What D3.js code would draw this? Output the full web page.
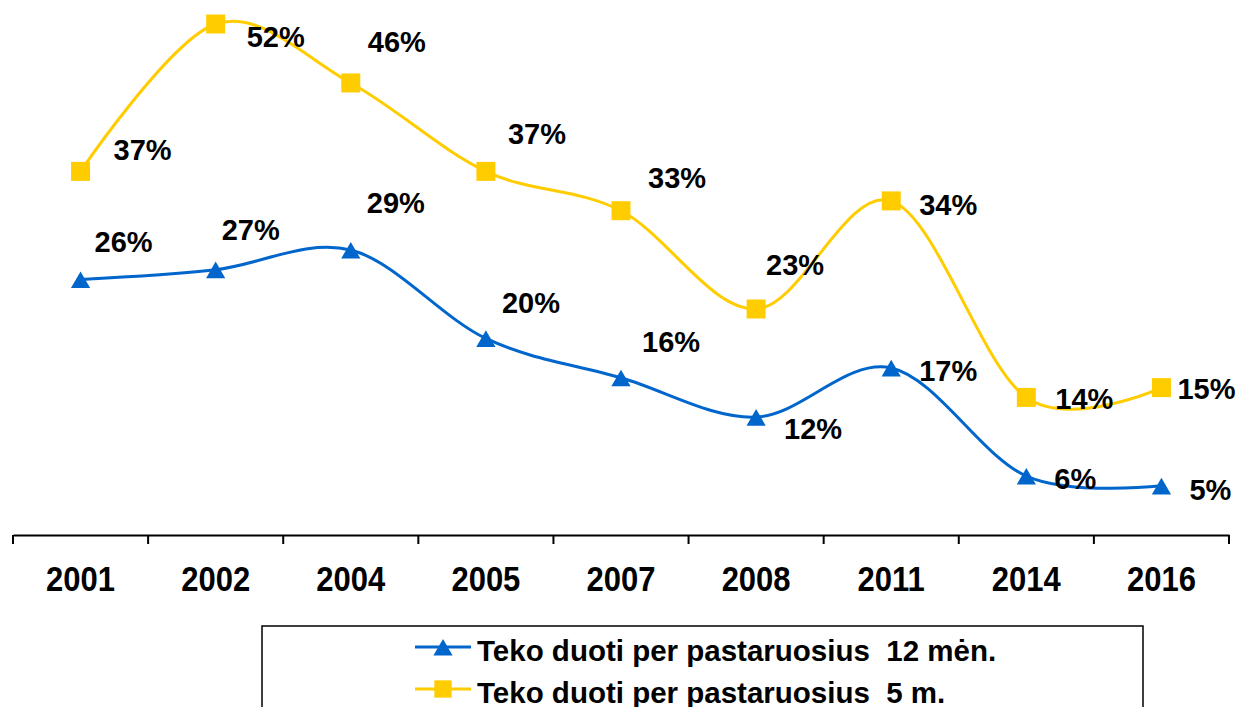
<!DOCTYPE html>
<html>
<head>
<meta charset="utf-8">
<script src="https://cdn.jsdelivr.net/npm/d3@7"></script>
<style>
  body { margin: 0; background: #fff; }
  text { font-family: Arial, "Liberation Sans", sans-serif; font-weight: bold; fill: #000; }
</style>
</head>
<body>
<div id="chart"></div>
<script>
// survey years and shares (%)
const years = ['2001', '2002', '2004', '2005', '2007', '2008', '2011', '2014', '2016'];
const last12m = [26, 27, 29, 20, 16, 12, 17, 6, 5];
const last5y = [37, 52, 46, 37, 33, 23, 34, 14, 15];
const seriesNames = ['Teko duoti per pastaruosius  12 mėn.', 'Teko duoti per pastaruosius  5 m.'];

// nudges for value labels, so they sit beside the markers like in the original
const nudge12m = [[14, -38], [6, -40], [16, -48], [16, -36], [21, -36], [28, 11], [28, 2], [28, 2], [28, 3]];
const nudge5y = [[33, -22], [31, 12], [17, -42], [22, -38], [27, -33], [10, -45], [28, 3], [29, 1], [16, 1]];

const BLUE = '#0066CC', YELLOW = '#FFCC00';

const svg = d3.select('#chart')
    .append('svg')
    .attr('width', 1245)
    .attr('height', 707);

const x = d3.scaleBand().domain(years).range([13, 1229]);
const y = d3.scaleLinear().domain([0, 52]).range([535, 24]);
const cx = d => x(d) + x.bandwidth() / 2;

// x axis: labels from the band scale, ticks on band boundaries
const axis = svg.append('g')
    .attr('transform', 'translate(0,535)')
    .call(d3.axisBottom(x).tickSize(0).tickPadding(31));
axis.select('.domain').attr('stroke', '#000').attr('stroke-width', 2);
axis.selectAll('.tick text')
    .style('font-size', '31px')
    .attr('y', 31 / 1.13)
    .attr('transform', 'scale(1,1.13)');

const bounds = d3.range(years.length + 1).map(i => x.range()[0] + i * x.step());
axis.selectAll('line.sep')
    .data(bounds)
    .enter().append('line')
    .attr('class', 'sep')
    .attr('x1', d => d).attr('x2', d => d)
    .attr('y1', 0).attr('y2', 9)
    .attr('stroke', '#000')
    .attr('stroke-width', 2);

const line = d3.line()
    .x((d, i) => cx(years[i]))
    .y(d => y(d))
    .curve(d3.curveCardinal.tension(0));

const tri = d3.symbol().type(d3.symbolTriangle).size(160);
const sq = d3.symbol().type(d3.symbolSquare).size(361);

function drawSeries(values, color, symbol, dyMark, nudges) {
    const g = svg.append('g');
    g.append('path')
        .datum(values)
        .attr('d', line)
        .attr('fill', 'none')
        .attr('stroke', color)
        .attr('stroke-width', 3);

    g.selectAll('path.mark')
        .data(values)
        .enter().append('path')
        .attr('class', 'mark')
        .attr('d', symbol)
        .attr('fill', color)
        .attr('transform', (d, i) => `translate(${cx(years[i])},${y(d) + dyMark})`);

    g.selectAll('text')
        .data(values)
        .enter().append('text')
        .attr('x', (d, i) => cx(years[i]) + nudges[i][0])
        .attr('y', (d, i) => y(d) + nudges[i][1])
        .attr('dy', '0.37em')
        .style('font-size', '29px')
        .text(d => d + '%');
}

drawSeries(last5y, YELLOW, sq, 0, nudge5y);
drawSeries(last12m, BLUE, tri, 3, nudge12m);

// legend (box runs off the bottom edge, as in the original)
const legend = svg.append('g');
legend.append('rect')
    .attr('x', 262).attr('y', 626)
    .attr('width', 881).attr('height', 110)
    .attr('fill', '#fff')
    .attr('stroke', '#000')
    .attr('stroke-width', 1.5);

const legendItems = [
    {name: seriesNames[0], color: BLUE, symbol: tri, dy: 3},
    {name: seriesNames[1], color: YELLOW, symbol: d3.symbol().type(d3.symbolSquare).size(300), dy: 0}
];
const item = legend.selectAll('g.item')
    .data(legendItems)
    .enter().append('g')
    .attr('class', 'item')
    .attr('transform', (d, i) => `translate(0,${647 + i * 42})`);
item.append('line')
    .attr('x1', 415).attr('x2', 471)
    .attr('stroke', d => d.color)
    .attr('stroke-width', 3);
item.append('path')
    .attr('d', d => d.symbol())
    .attr('fill', d => d.color)
    .attr('transform', d => `translate(443,${d.dy})`);
item.append('text')
    .attr('x', 477)
    .attr('y', 13.5)
    .style('font-size', '29.5px')
    .style('white-space', 'pre')
    .text(d => d.name);
</script>
</body>
</html>
